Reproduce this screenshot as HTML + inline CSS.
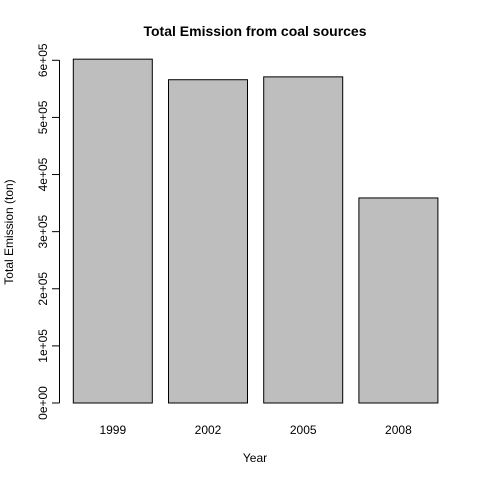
<!DOCTYPE html>
<html><head><meta charset="utf-8"><style>
body{margin:0;background:#fff;}
svg{display:block;font-family:"Liberation Sans",Arial,sans-serif;}
</style></head><body>
<svg id="chart" width="480" height="480">
<text x="255" y="36" text-anchor="middle" font-size="14" font-weight="bold">Total Emission from coal sources</text>
<text x="255" y="462" text-anchor="middle" font-size="12">Year</text>
<text transform="translate(13,232) rotate(-90)" text-anchor="middle" font-size="12">Total Emission (ton)</text>
<g id="bars"></g><g id="yaxis"></g><g id="xlabels"></g>
</svg>
<script>
const categories = ["1999","2002","2005","2008"];
const emissions = [602000, 566000, 571000, 359000];
const yTicks = [0,100000,200000,300000,400000,500000,600000];
const yTickLabels = ["0e+00","1e+05","2e+05","3e+05","4e+05","5e+05","6e+05"];

const NS="http://www.w3.org/2000/svg";
const y0=403, pxPer=(403-60.3)/600000;
function yScale(v){return y0-v*pxPer;}
function xLeft(i){return 73.3+i*95.2;}
const bw=79;
const bars=document.getElementById('bars');
emissions.forEach((v,i)=>{
  const r=document.createElementNS(NS,'rect');
  r.setAttribute('x',xLeft(i));r.setAttribute('y',yScale(v));
  r.setAttribute('width',bw);r.setAttribute('height',y0-yScale(v));
  r.setAttribute('fill','#bebebe');r.setAttribute('stroke','#000');r.setAttribute('stroke-width','1');
  
  
  bars.appendChild(r);
  const t=document.createElementNS(NS,'text');
  t.setAttribute('x',xLeft(i)+bw/2);t.setAttribute('y',434);
  t.setAttribute('text-anchor','middle');t.setAttribute('font-size','12');
  t.textContent=categories[i];
  
  
  document.getElementById('xlabels').appendChild(t);
});
const ya=document.getElementById('yaxis');
const ax=document.createElementNS(NS,'line');
ax.setAttribute('x1',59.5);ax.setAttribute('x2',59.5);
ax.setAttribute('y1',yScale(yTicks[0]));ax.setAttribute('y2',yScale(yTicks[yTicks.length-1]));
ax.setAttribute('stroke','#000');


ya.appendChild(ax);
yTicks.forEach((v,i)=>{
  const l=document.createElementNS(NS,'line');
  l.setAttribute('x1',52);l.setAttribute('x2',59.5);
  l.setAttribute('y1',yScale(v));l.setAttribute('y2',yScale(v));
  l.setAttribute('stroke','#000');
  
  
  ya.appendChild(l);
  const t=document.createElementNS(NS,'text');
  t.setAttribute('transform','translate(47,'+yScale(v)+') rotate(-90)');
  t.setAttribute('text-anchor','middle');t.setAttribute('font-size','12');
  t.textContent=yTickLabels[i];
  
  
  ya.appendChild(t);
});
</script>
</body></html>
